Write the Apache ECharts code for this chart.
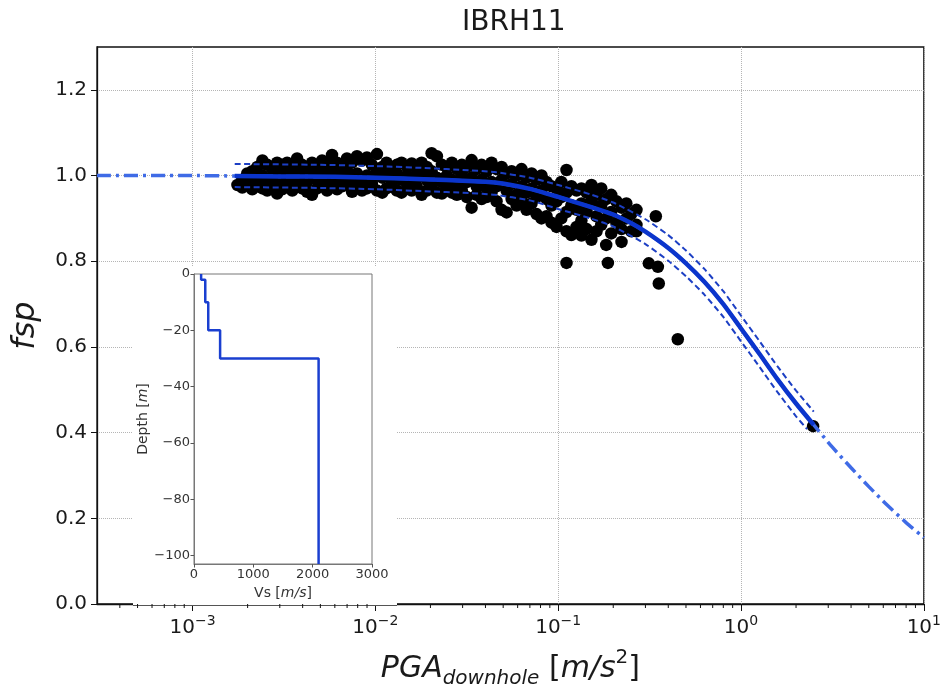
<!DOCTYPE html>
<html><head><meta charset="utf-8">
<script src="https://cdn.jsdelivr.net/npm/echarts@6/dist/echarts.min.js"></script>
<style>html,body{margin:0;padding:0;background:#fff}#c{width:944px;height:694px}</style>
</head><body><div id="c"></div>
<script>
const chartTitle = 'IBRH11';
const xLabelExponents = [-3, -2, -1, 0, 1];
const yTickValues = [0, 0.2, 0.4, 0.6, 0.8, 1.0, 1.2];
const minorTickValues = [4e-4,5e-4,6e-4,7e-4,8e-4,9e-4,2e-3,3e-3,4e-3,5e-3,6e-3,7e-3,8e-3,9e-3,0.02,0.03,0.04,0.05,0.06,0.07,0.08,0.09,0.2,0.3,0.4,0.5,0.6,0.7,0.8,0.9,2,3,4,5,6,7,8,9];
const obsColumnPGA = [0.00176,0.00187,0.00199,0.00212,0.00226,0.00241,0.00256,0.00273,0.0029,0.00309,0.00329,0.00351,0.00373,0.00397,0.00423,0.0045,0.0048,0.00511,0.00544,0.00579,0.00617,0.00657,0.00699,0.00745,0.00793,0.00844,0.00899,0.00957,0.0102,0.0109,0.0115,0.0123,0.0131,0.0139,0.0149,0.0158,0.0168,0.0179,0.0191,0.0203,0.0217,0.0231,0.0246,0.0262,0.0279,0.0297,0.0316,0.0336,0.0358,0.0381,0.0406,0.0432,0.046,0.049,0.0522,0.0556,0.0592,0.063,0.0671,0.0715,0.0761,0.081,0.0863,0.0919,0.0979,0.104,0.111,0.118,0.126,0.134,0.143,0.152,0.162,0.172,0.183,0.195,0.208,0.222,0.236,0.251,0.268];
const obsColumnFsp = [
 [0.978],[0.99,0.972],[1.005,0.98],[1.01,0.985,0.968],[1.02,0.995,0.975],
 [1.035,1.0,0.97],[1.025,0.99,0.965],[1.015,0.998,0.978],[1.03,1.005,0.958],[1.022,0.985,0.968],
 [1.03,1.0,0.975],[1.018,0.99,0.965],[1.04,1.005,0.98],[1.025,0.995,0.97],[1.015,0.985,0.962],
 [1.03,1.0,0.955],[1.02,0.99,0.97],[1.035,1.005,0.978],[1.025,0.995,0.965],[1.048,1.01,0.98],
 [1.03,0.99,0.968],[1.02,1.0,0.975],[1.04,1.01,0.985],[1.03,0.995,0.962],[1.045,1.005,0.975],
 [1.035,0.985,0.965],[1.042,1.0,0.97],[1.025,0.99,0.98],[1.05,1.01,0.965],[1.02,0.995,0.96],
 [1.03,1.0,0.97],[1.015,0.985,0.975],[1.025,1.005,0.965],[1.03,0.99,0.96],[1.02,1.0,0.97],
 [1.028,0.985,0.965],[1.015,0.995,0.975],[1.03,1.0,0.955],[1.02,0.99,0.965],[1.052,1.01,0.975],
 [1.045,0.995,0.96],[1.025,0.985,0.958],[1.02,1.0,0.97],[1.03,0.99,0.96],[1.015,0.98,0.955],
 [1.025,1.0,0.965],[1.02,0.985,0.95],[1.036,0.995,0.925],[1.015,0.975,0.955],[1.025,0.99,0.945],
 [1.01,0.97,0.95],[1.03,0.985,0.96],[1.015,0.975,0.94],[1.02,0.99,0.92],[1.005,0.965,0.914],
 [1.01,0.98,0.945],[1.0,0.955,0.93],[1.015,0.975,0.94],[0.995,0.96,0.92],[1.005,0.97,0.935],
 [0.99,0.95,0.91],[1.0,0.965,0.9],[0.985,0.945,0.905],[0.975,0.93,0.89],[0.97,0.94,0.88],
 [0.985,0.95,0.9],[1.013,0.96,0.915,0.87],[0.975,0.93,0.861],[0.965,0.92,0.88],[0.97,0.935,0.895,0.86],
 [0.96,0.915,0.875],[0.978,0.94,0.85],[0.955,0.905,0.87],[0.97,0.93,0.885],[0.945,0.9,0.838],
 [0.955,0.915,0.865],[0.94,0.89],[0.925,0.875,0.845],[0.935,0.9],[0.91,0.87],[0.92,0.885,0.87]
];
const outlierPGA = [0.111, 0.187, 0.313, 0.351, 0.355, 0.342, 0.451, 2.48];
const outlierFsp = [0.796, 0.796, 0.795, 0.787, 0.748, 0.905, 0.618, 0.415];
const fitPGA = [0.0003,0.001,0.0017,0.003,0.006,0.01,0.02,0.03,0.045,0.07,0.1,0.15,0.2,0.25,0.3,0.4,0.5,0.63,0.8,1.0,1.26,1.58,2.0,2.5,3.16,4.0,5.0,6.3,8.0,10];
const fitFsp = [1.0,1.0,0.999,0.998,0.997,0.995,0.991,0.988,0.984,0.969,0.95,0.927,0.909,0.889,0.869,0.831,0.795,0.752,0.700,0.643,0.584,0.525,0.468,0.418,0.366,0.318,0.274,0.231,0.19,0.155];
const upperPGA = [0.0017,0.005,0.01,0.02,0.03,0.045,0.07,0.1,0.15,0.2,0.3,0.4,0.5,0.63,0.8,1.0,1.26,1.58,2.0,2.5];
const upperFsp = [1.027,1.025,1.022,1.017,1.013,1.008,0.995,0.978,0.956,0.937,0.898,0.861,0.825,0.782,0.730,0.673,0.614,0.555,0.498,0.449];
const lowerPGA = [0.0017,0.005,0.01,0.02,0.03,0.045,0.07,0.1,0.15,0.2,0.3,0.4,0.5,0.63,0.8,1.0,1.26,1.58,2.0,2.3];
const lowerFsp = [0.973,0.971,0.968,0.963,0.96,0.955,0.942,0.922,0.9,0.881,0.84,0.801,0.765,0.722,0.67,0.613,0.554,0.495,0.438,0.408];
const dataRangePGA = [0.0017, 2.5];
const profileVs = [120,120,190,190,240,240,440,440,2100,2100];
const profileDepth = [0,-2,-2,-10,-10,-20,-20,-30,-30,-103];
const insetYTicks = [-100,-80,-60,-40,-20,0];

const zip = (a, b) => a.map((v, i) => [v, b[i]]);
const obsData = [];
obsColumnPGA.forEach((p, i) => obsColumnFsp[i].forEach(f => obsData.push([p, f])));
zip(outlierPGA, outlierFsp).forEach(d => obsData.push(d));
const fitAll = zip(fitPGA, fitFsp);
const fitSolid = fitAll.filter(d => d[0] >= dataRangePGA[0] - 1e-9 && d[0] <= dataRangePGA[1] + 1e-9);

const FONT = 'DejaVu Sans';
const TXT = '#1a1a1a';
const minus = v => (v < 0 ? '\u2212' + Math.abs(v) : String(v));

const chart = echarts.init(document.getElementById('c'), null, {renderer: 'canvas'});
chart.setOption({
  animation: false,
  backgroundColor: '#fff',
  textStyle: {fontFamily: FONT},
  title: {text: chartTitle, left: 457, top: 4, textStyle: {fontFamily: FONT, fontSize: 28, fontWeight: 'normal', color: TXT}},
  grid: [
    {left: 97, right: 20, top: 47, bottom: 83, show: true, borderColor: '#111', borderWidth: 1.3, z: 0},
    {left: 194, top: 274, width: 178, height: 290, show: true, backgroundColor: '#fff', borderColor: '#777', borderWidth: 1, z: 3}
  ],
  graphic: [
    {type: 'rect', shape: {x: 133, y: 266, width: 264, height: 339}, style: {fill: '#fff'}, z: 1, silent: true},
    {type: 'line', shape: {x1: 133, y1: 605.5, x2: 397, y2: 605.5}, style: {stroke: '#555', lineWidth: 1}, z: 1, silent: true}
  ],
  xAxis: [
    {
      type: 'log', logBase: 10, min: 0.0003, max: 10, gridIndex: 0, z: 0,
      name: '{i|PGA}{sub|downhole}{n| [}{i2|m/s}{sup|2}{n|]}',
      nameLocation: 'middle', nameGap: 44,
      nameTextStyle: {
        fontFamily: FONT, color: TXT,
        rich: {
          i: {fontSize: 30, fontStyle: 'italic', fontFamily: FONT, color: TXT, verticalAlign: 'top', padding: [6, 0, 0, 0]},
          sub: {fontSize: 20, fontStyle: 'italic', fontFamily: FONT, color: TXT, verticalAlign: 'top', padding: [21, 0, 0, 0]},
          n: {fontSize: 30, fontFamily: FONT, color: TXT, verticalAlign: 'top', padding: [6, 0, 0, 0]},
          i2: {fontSize: 30, fontStyle: 'italic', fontFamily: FONT, color: TXT, verticalAlign: 'top', padding: [6, 0, 0, 0]},
          sup: {fontSize: 20, fontFamily: FONT, color: TXT, verticalAlign: 'top', padding: [0, 0, 0, 0]}
        }
      },
      axisLine: {show: true, onZero: false, lineStyle: {color: '#111', width: 1.3}},
      axisTick: {show: true, inside: false, length: 7, lineStyle: {color: '#111', width: 1}},
      axisLabel: {
        show: true, margin: 10, showMinLabel: false,
        formatter: v => {
          const lg = Math.log10(v), e = Math.round(lg);
          if (Math.abs(lg - e) > 1e-6 || xLabelExponents.indexOf(e) < 0) return '';
          return '{b|10}{s|' + minus(e) + '}';
        },
        rich: {
          b: {fontSize: 20, fontFamily: FONT, color: TXT, verticalAlign: 'bottom'},
          s: {fontSize: 14, fontFamily: FONT, color: TXT, verticalAlign: 'bottom', padding: [0, 0, 10, 0]}
        }
      },
      splitLine: {show: true, lineStyle: {color: '#b5b5b5', type: 'dotted', width: 1}},
      minorTick: {show: false}
    },
    {
      type: 'value', gridIndex: 1, min: 0, max: 3000, interval: 1000, z: 4,
      name: '{n|Vs [}{i|m/s}{n|]}', nameLocation: 'middle', nameGap: 22,
      nameTextStyle: {rich: {
        n: {fontSize: 14, fontFamily: FONT, color: '#333'},
        i: {fontSize: 14, fontFamily: FONT, fontStyle: 'italic', color: '#333'}
      }},
      axisLine: {show: true, onZero: false, lineStyle: {color: '#777', width: 1}},
      axisTick: {show: true, length: 3.5, lineStyle: {color: '#555'}},
      axisLabel: {fontSize: 13, color: '#333', margin: 4, fontFamily: FONT, formatter: v => String(v)},
      splitLine: {show: false}
    }
  ],
  yAxis: [
    {
      type: 'value', min: 0, max: 1.3, gridIndex: 0, z: 0,
      name: 'fsp', nameLocation: 'middle', nameGap: 55, nameRotate: 90,
      nameTextStyle: {fontSize: 32, fontStyle: 'italic', fontFamily: FONT, color: TXT},
      axisLine: {show: true, lineStyle: {color: '#111', width: 1.3}},
      axisTick: {show: true, length: 6, lineStyle: {color: '#111', width: 1}, customValues: yTickValues},
      axisLabel: {fontSize: 20, color: TXT, margin: 10, fontFamily: FONT, customValues: yTickValues, formatter: v => v.toFixed(1)},
      splitLine: {show: true, lineStyle: {color: '#b5b5b5', type: 'dotted', width: 1}}
    },
    {
      type: 'value', gridIndex: 1, min: -103, max: 0, z: 4,
      name: '{n|Depth [}{i|m}{n|]}', nameLocation: 'middle', nameGap: 44, nameRotate: 90,
      nameTextStyle: {rich: {
        n: {fontSize: 14, fontFamily: FONT, color: '#333'},
        i: {fontSize: 14, fontFamily: FONT, fontStyle: 'italic', color: '#333'}
      }},
      axisLine: {show: true, onZero: false, lineStyle: {color: '#777', width: 1}},
      axisTick: {show: true, length: 3.5, lineStyle: {color: '#555'}, customValues: insetYTicks},
      axisLabel: {fontSize: 13, color: '#333', margin: 4, fontFamily: FONT, customValues: insetYTicks, formatter: v => minus(v)},
      splitLine: {show: false}
    }
  ],
  series: [
    {type: 'scatter', xAxisIndex: 0, yAxisIndex: 0, data: obsData, symbol: 'circle', symbolSize: 12.5, itemStyle: {color: '#000', opacity: 1}, z: 2, silent: true},
    {type: 'line', xAxisIndex: 0, yAxisIndex: 0, data: fitAll, showSymbol: false, smooth: 0.2, z: 3, lineStyle: {color: '#3f6be6', width: 3.5, type: [14, 5, 3, 5]}, silent: true},
    {type: 'line', xAxisIndex: 0, yAxisIndex: 0, data: zip(upperPGA, upperFsp), showSymbol: false, smooth: 0.2, z: 3, lineStyle: {color: '#1c3fc4', width: 2, type: [6, 3.5]}, silent: true},
    {type: 'line', xAxisIndex: 0, yAxisIndex: 0, data: zip(lowerPGA, lowerFsp), showSymbol: false, smooth: 0.2, z: 3, lineStyle: {color: '#1c3fc4', width: 2, type: [6, 3.5]}, silent: true},
    {type: 'line', xAxisIndex: 0, yAxisIndex: 0, data: fitSolid, showSymbol: false, smooth: 0.2, z: 3, lineStyle: {color: '#0b35cc', width: 4.5}, silent: true},
    {
      type: 'custom', xAxisIndex: 0, yAxisIndex: 0, data: minorTickValues.map(v => [v, 0]), silent: true, clip: false, z: 5,
      renderItem: (params, api) => {
        const p = api.coord([api.value(0), 0]);
        return {type: 'line', shape: {x1: p[0], y1: p[1], x2: p[0], y2: p[1] + 4}, style: {stroke: '#111', lineWidth: 1}};
      }
    },
    {type: 'line', xAxisIndex: 1, yAxisIndex: 1, data: zip(profileVs, profileDepth), showSymbol: false, z: 6, lineStyle: {color: '#1a3fd0', width: 2.5}, silent: true}
  ]
});
</script></body></html>
